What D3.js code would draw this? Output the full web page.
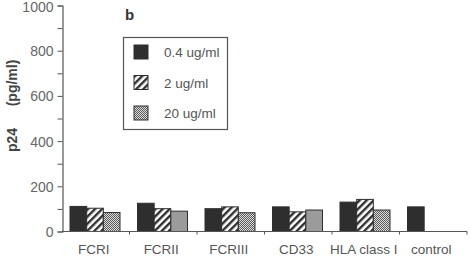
<!DOCTYPE html>
<html>
<head>
<meta charset="utf-8">
<script src="https://cdn.jsdelivr.net/npm/d3@7/dist/d3.min.js"></script>
<style>
  body { margin: 0; background: #fff; }
  svg { display: block; font-family: "Liberation Sans", Arial, sans-serif; }
</style>
</head>
<body>
<svg id="chart" width="470" height="256"></svg>
<script>
// ── Data ─────────────────────────────────
const groups = ['FCRI', 'FCRII', 'FCRIII', 'CD33', 'HLA class I', 'control'];
const series = ['0.4 ug/ml', '2 ug/ml', '20 ug/ml'];
const v04 = [111, 125, 101, 109, 130, 109];
const v2  = [103, 101, 109, 87, 142, null];
const v20 = [84, 90, 83, 95, 95, null];
const yTicks = [0, 200, 400, 600, 800, 1000];

const svg = d3.select('#chart');
const ink = '#2e2e2e';
const grey = '#666';

// ── Patterns ─────────────────────────────
const defs = svg.append('defs');
const hatch = defs.append('pattern').attr('id', 'hatch')
  .attr('patternUnits', 'userSpaceOnUse').attr('width', 5).attr('height', 5)
  .attr('patternTransform', 'rotate(45)');
hatch.append('rect').attr('width', 5).attr('height', 5).attr('fill', '#fff');
hatch.append('rect').attr('width', 2.4).attr('height', 5).attr('fill', ink);

const dots = defs.append('pattern').attr('id', 'dots')
  .attr('patternUnits', 'userSpaceOnUse').attr('width', 2).attr('height', 2);
dots.append('rect').attr('width', 2).attr('height', 2).attr('fill', '#dcdcdc');
dots.append('rect').attr('width', 1).attr('height', 1).attr('fill', '#5a5a5a');
dots.append('rect').attr('x', 1).attr('y', 1).attr('width', 1).attr('height', 1).attr('fill', '#5a5a5a');

const fills = [ink, 'url(#hatch)', 'url(#dots)'];

// ── Scales ───────────────────────────────
const x0 = d3.scaleBand().domain(groups).range([62, 467]).padding(0);
const x1 = d3.scaleBand().domain(series).range([8, 58]).padding(0);
const y = d3.scaleLinear().domain([0, 1000]).range([231.5, 5.5]);

// ── Bars ─────────────────────────────────
const rows = groups.map((g, i) => ({ g, vals: [v04[i], v2[i], v20[i]] }));
const gg = svg.append('g').selectAll('g').data(rows).join('g')
  .attr('transform', d => `translate(${x0(d.g)},0)`);
gg.selectAll('rect')
  .data(d => d.vals.map((v, k) => ({ s: series[k], v, k })).filter(e => e.v != null))
  .join('rect')
  .attr('x', d => x1(d.s))
  .attr('y', d => y(d.v))
  .attr('width', x1.bandwidth())
  .attr('height', d => y(0) - y(d.v))
  .attr('fill', d => fills[d.k])
  .attr('stroke', ink).attr('stroke-width', 1);

// ── Axes ─────────────────────────────────
const yAxis = d3.axisLeft(y).tickValues(d3.range(0, 1001, 100))
  .tickSize(5).tickFormat(d => yTicks.includes(d) ? d : '');
const ya = svg.append('g').attr('transform', 'translate(62.5,0)').call(yAxis);
ya.select('.domain').attr('stroke', '#555').attr('stroke-width', 1.2);
ya.selectAll('.tick line').attr('stroke', '#555');
ya.selectAll('.tick text').attr('fill', grey).attr('font-size', 14).attr('x', -9)
  .attr('dy', d => d === 1000 ? '0.45em' : '0.36em');

const xa = svg.append('g').attr('transform', `translate(0,${y(0)})`);
xa.append('line').attr('x1', 62).attr('x2', 467).attr('stroke', '#555').attr('stroke-width', 1.2);
xa.selectAll('line.tk').data(groups.slice(1).map(g => x0(g)).concat([467]))
  .join('line').attr('class', 'tk')
  .attr('x1', d => d).attr('x2', d => d).attr('y1', 0).attr('y2', 3)
  .attr('stroke', '#555');
xa.selectAll('text').data(groups).join('text')
  .attr('x', d => x0(d) + x0.bandwidth() / 2 - 2)
  .attr('y', 22.5)
  .attr('text-anchor', 'middle')
  .attr('fill', '#555').attr('font-size', 13.5)
  .text(d => d);

// y title
svg.append('text')
  .attr('transform', 'translate(17,140) rotate(-90)')
  .attr('text-anchor', 'middle')
  .attr('fill', '#444').attr('font-size', 14).attr('font-weight', 'bold')
  .text('p24');
svg.append('text')
  .attr('transform', 'translate(17,83) rotate(-90)')
  .attr('text-anchor', 'middle')
  .attr('fill', '#444').attr('font-size', 14).attr('font-weight', 'bold')
  .text('(pg/ml)');

// panel letter
svg.append('text').attr('x', 125).attr('y', 20)
  .attr('font-size', 15).attr('font-weight', 'bold').attr('fill', '#333').text('b');

// ── Legend ───────────────────────────────
svg.append('rect').attr('x', 123.5).attr('y', 37.5).attr('width', 104).attr('height', 92)
  .attr('fill', '#fff').attr('stroke', '#555').attr('stroke-width', 1.2);
const lg = svg.append('g').selectAll('g').data(series).join('g')
  .attr('transform', (d, i) => `translate(134,${45 + i * 30.5})`);
lg.append('rect').attr('width', 14).attr('height', 14)
  .attr('fill', (d, i) => fills[i]).attr('stroke', ink);
lg.append('text').attr('x', 30).attr('y', 12).attr('font-size', 13.5).attr('fill', '#555')
  .text(d => d);
</script>
</body>
</html>
